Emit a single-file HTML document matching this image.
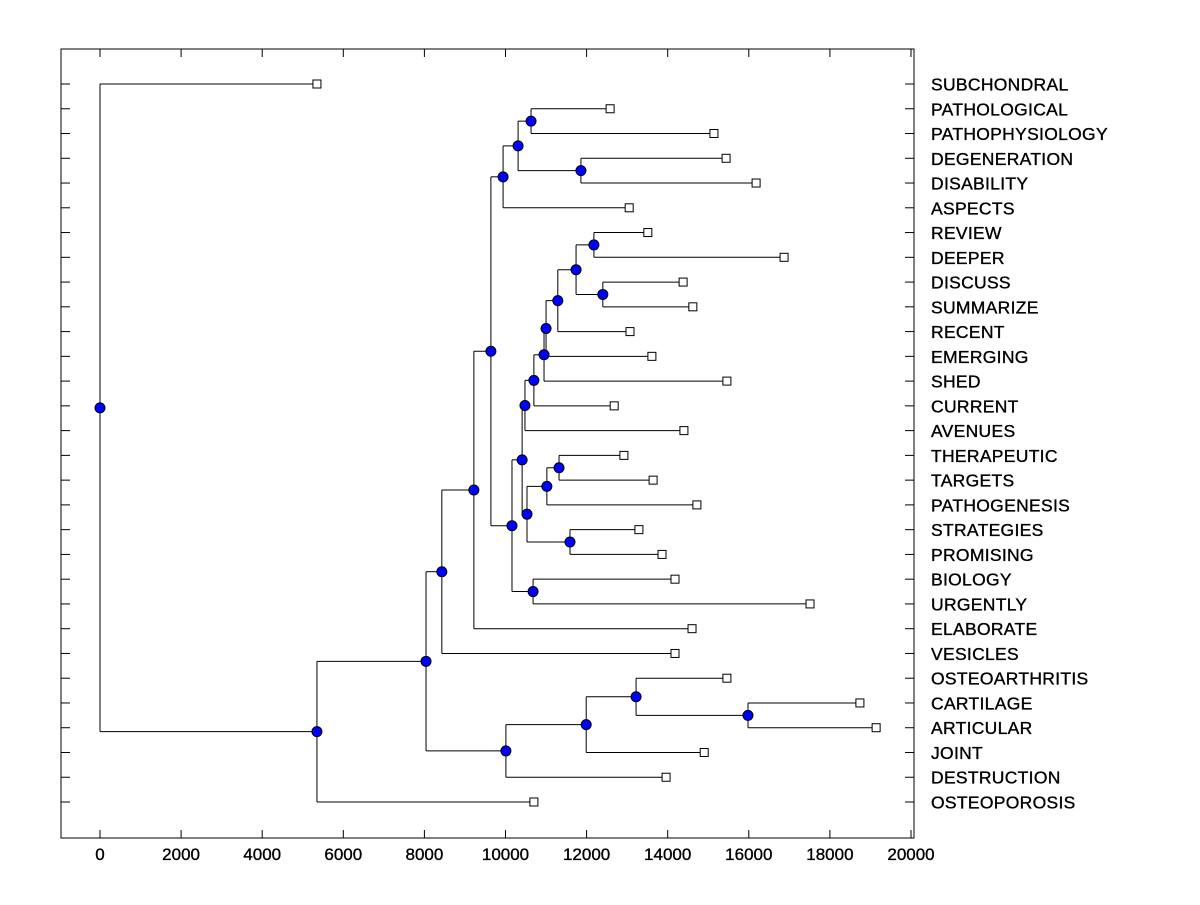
<!DOCTYPE html>
<html><head><meta charset="utf-8"><style>
html,body{margin:0;padding:0;background:#fff;}
svg text{font-family:"Liberation Sans",Arial,sans-serif;font-size:17px;fill:#000;stroke:#000;stroke-width:0.35px;}
svg text.leaf{font-size:17.5px;letter-spacing:0.3px;}
</style></head><body>
<svg id="chart" width="1200" height="900" viewBox="0 0 1200 900" xmlns="http://www.w3.org/2000/svg"></svg>
<script>
const leafNames = ["SUBCHONDRAL","PATHOLOGICAL","PATHOPHYSIOLOGY","DEGENERATION","DISABILITY","ASPECTS","REVIEW","DEEPER","DISCUSS","SUMMARIZE","RECENT","EMERGING","SHED","CURRENT","AVENUES","THERAPEUTIC","TARGETS","PATHOGENESIS","STRATEGIES","PROMISING","BIOLOGY","URGENTLY","ELABORATE","VESICLES","OSTEOARTHRITIS","CARTILAGE","ARTICULAR","JOINT","DESTRUCTION","OSTEOPOROSIS"];
const leafValues = [5350,12580,15140,15440,16180,13050,13510,16870,14380,14620,13070,13610,15460,12680,14400,12920,13640,14720,13290,13860,14180,17510,14600,14180,15460,18740,19140,14900,13960,10700];
const nodeNames = ["root","A","B","C","D","E","F","G","H","I","J","L","M","N","K","O","N525","N534","N544","N546","N558","N576","N594","N603","N527","N547","N559","N569","P"];
const nodeValues = [0,5350,8040,8430,10010,11990,13220,15980,9220,9640,9940,10310,10630,11860,10160,10410,10480,10700,10950,11000,11290,11740,12180,12400,10530,11020,11320,11590,10680];
const nodeChildren = [["L0","A"],["B","L29"],["C","D"],["H","L23"],["E","L28"],["F","L27"],["L24","G"],["L25","L26"],["I","L22"],["J","K"],["L","L5"],["M","N"],["L1","L2"],["L3","L4"],["O","P"],["N525","N527"],["N534","L14"],["N544","L13"],["N546","L12"],["N558","L11"],["N576","L10"],["N594","N603"],["L6","L7"],["L8","L9"],["N547","N569"],["N559","L17"],["L15","L16"],["L18","L19"],["L20","L21"]];
const xTicks = [0,2000,4000,6000,8000,10000,12000,14000,16000,18000,20000];

const svg = document.getElementById('chart');
const NS = "http://www.w3.org/2000/svg";
const L=61,R=914,T=49,B=838;
const xs = v => 100 + v*(811/20000);
const ys = i => 84 + i*(718/29);
function mk(tag, attrs){const e=document.createElementNS(NS,tag);for(const k in attrs)e.setAttribute(k,attrs[k]);svg.appendChild(e);return e;}

const frame = mk('rect',{x:L,y:T,width:R-L,height:B-T,fill:'none',stroke:'#000','stroke-width':1});



xTicks.forEach(t=>{
  const x=xs(t);
  const tb=mk('line',{x1:x,y1:B,x2:x,y2:B-8,stroke:'#000'});
  
  
  const tt=mk('line',{x1:x,y1:T,x2:x,y2:T+8,stroke:'#000'});
  
  
  const lb=mk('text',{x:x,y:860,'text-anchor':'middle'});
  lb.textContent=t;
  
  
});

leafNames.forEach((n,i)=>{
  const y=ys(i);
  const a=mk('line',{x1:L,y1:y,x2:L+9,y2:y,stroke:'#000'});
  
  
  const b=mk('line',{x1:R-9,y1:y,x2:R,y2:y,stroke:'#000'});
  
  
  const t=mk('text',{x:931,y:y+6.5,'class':'leaf'});
  t.textContent=n;
  
  
});

const nodeY={};
function posY(id){
  if(/^L\d+$/.test(id)) return ys(+id.slice(1));
  if(nodeY[id]!==undefined) return nodeY[id];
  const k=nodeNames.indexOf(id);
  const c=nodeChildren[k];
  nodeY[id]=(posY(c[0])+posY(c[1]))/2;
  return nodeY[id];
}
function posX(id){
  if(/^L\d+$/.test(id)) return xs(leafValues[+id.slice(1)]);
  return xs(nodeValues[nodeNames.indexOf(id)]);
}
const circles=[], boxes=[];
nodeNames.forEach((id,k)=>{
  const x=posX(id);
  const c=nodeChildren[k];
  const y1=posY(c[0]), y2=posY(c[1]);
  const v=mk('line',{x1:x,y1:y1,x2:x,y2:y2,stroke:'#000'});
  
  
  c.forEach(ch=>{
    const h=mk('line',{x1:x,y1:posY(ch),x2:posX(ch),y2:posY(ch),stroke:'#000'});
    
    
  });
  circles.push([x,posY(id)]);
});
leafNames.forEach((n,i)=>boxes.push([xs(leafValues[i]),ys(i)]));
boxes.forEach(([x,y])=>{
  const r=mk('rect',{x:x-4,y:y-4,width:8,height:8,fill:'#fff',stroke:'#000'});
  
  
});
circles.forEach(([x,y])=>{
  const c=mk('circle',{cx:x,cy:y,r:5,fill:'#0000ff',stroke:'#000','stroke-width':1});
  
  
});
</script>
</body></html>
